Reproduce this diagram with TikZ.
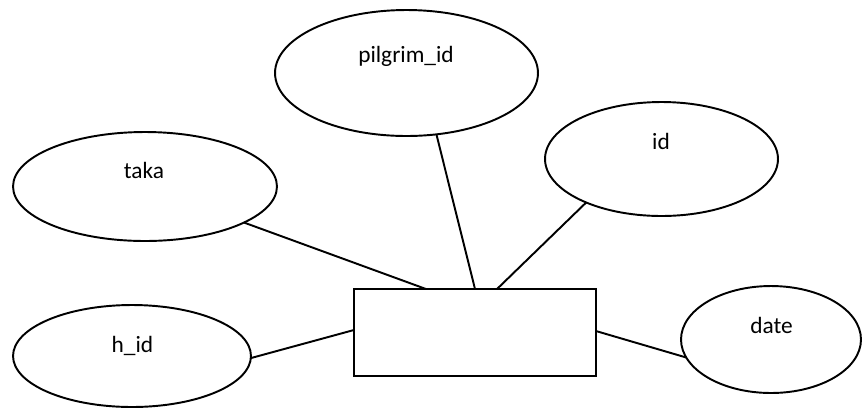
\documentclass[tikz,border=0pt]{standalone}
\usepackage{fontspec}
\setmainfont{Carlito}
\usetikzlibrary{calc,shapes.geometric}
\tikzset{
  attr/.style={draw,ellipse,line width=1.1pt,inner sep=0pt,outer sep=0pt},
  entbox/.style={draw,rectangle,line width=1.1pt,inner sep=0pt,outer sep=0pt,
    minimum width=4.84cm,minimum height=1.74cm},
  attrtext/.style={anchor=base,font=\fontsize{13.3}{16}\selectfont},
  link/.style={line width=1.1pt},
}
\newcommand{\eattr}[5]{%
  \node[attr,minimum width=#4,minimum height=#5] (#1) at (#2,#3) {};}
\newcommand{\etext}[4]{\node[attrtext] (#1) at (#2,#3) {#4};}

\begin{document}
\begin{tikzpicture}[x=0.02cm,y=-0.02cm]
  \useasboundingbox (0,0) rectangle (862,407);
  % entity
  \node[entbox] (ent) at (475,332.5) {};
  \coordinate (entA) at ($(ent.north west)!0.2975!(ent.north east)$);
  \coordinate (entB) at (ent.north);
  \coordinate (entC) at ($(ent.north west)!0.591!(ent.north east)$);
  \coordinate (entL) at ($(ent.north west)!0.471!(ent.south west)$);
  \coordinate (entR) at ($(ent.north east)!0.483!(ent.south east)$);
  % attributes
  \eattr{pilgrim}{406.5}{73}{5.26cm}{2.52cm}
  \eattr{taka}{145}{186.5}{5.28cm}{2.18cm}
  \eattr{idattr}{661.5}{159}{4.66cm}{2.28cm}
  \eattr{hid}{132}{356}{4.76cm}{2.04cm}
  \eattr{date}{771}{339.5}{3.6cm}{2.14cm}
  \etext{pilgrimtxt}{406}{62}{pilgrim\_id}
  \etext{takatxt}{144}{178}{taka}
  \etext{idtxt}{661}{149}{id}
  \etext{hidtxt}{132.5}{352}{h\_id}
  \etext{datetxt}{771.5}{333}{date}
  % links
  \draw[link] (taka.-20) -- (entA);
  \draw[link] (pilgrim.-64.2) -- (entB);
  \draw[link] (idattr.-150.7) -- (entC);
  \draw[link] (hid.-1) -- (entL);
  \draw[link] (date.-168.1) -- (entR);
\end{tikzpicture}
\end{document}
